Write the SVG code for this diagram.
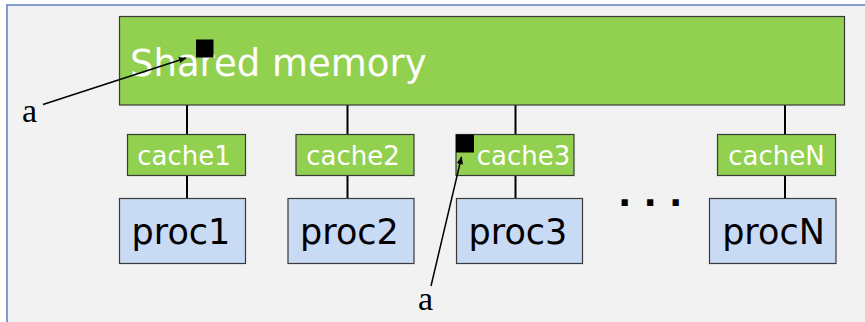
<svg xmlns="http://www.w3.org/2000/svg" width="865" height="322" viewBox="0 0 865 322">
  <defs>
    <marker id="arrow" viewBox="0 0 10 10" refX="9" refY="5" markerWidth="8" markerHeight="8" markerUnits="userSpaceOnUse" orient="auto">
      <path d="M0,1 L10,5 L0,9 z" fill="#000"/>
    </marker>
    <style>
      .mem { fill: #92d050; stroke: #3a3a3a; stroke-width: 1.2; }
      .cache { fill: #92d050; stroke: #3a3a3a; stroke-width: 1.2; }
      .proc { fill: #c9daf5; stroke: #3a3a3a; stroke-width: 1.2; }
      .wtxt { font-family: "DejaVu Sans", Verdana, sans-serif; fill: #ffffff; }
      .btxt { font-family: "DejaVu Sans", Verdana, sans-serif; fill: #000000; }
      .lbl { font-family: "Liberation Serif", "Times New Roman", serif; font-size: 34px; fill: #000; }
      .link { stroke: #000; stroke-width: 2; fill: none; }
      .ptr { stroke: #000; stroke-width: 1.5; fill: none; marker-end: url(#arrow); }
      .blk { fill: #000; }
    </style>
  </defs>

  <!-- panel -->
  <rect x="7" y="5" width="880" height="340" fill="#f2f2f2" stroke="#5b80c4" stroke-width="1.5"/>

  <!-- connectors: memory to caches, caches to processors -->
  <g id="connectors">
    <line class="link" x1="187" y1="105" x2="187" y2="134.5"/>
    <line class="link" x1="187" y1="175.5" x2="187" y2="198.5"/>
    <line class="link" x1="347.5" y1="105" x2="347.5" y2="134.5"/>
    <line class="link" x1="347.5" y1="175.5" x2="347.5" y2="198.5"/>
    <line class="link" x1="515.5" y1="105" x2="515.5" y2="134.5"/>
    <line class="link" x1="515.5" y1="175.5" x2="515.5" y2="198.5"/>
    <line class="link" x1="785" y1="105" x2="785" y2="134.5"/>
    <line class="link" x1="785" y1="175.5" x2="785" y2="198.5"/>
  </g>

  <g id="shared-memory">
    <rect class="mem" x="119.5" y="16.5" width="725" height="88.5"/>
    <text class="wtxt" x="130" y="76" font-size="37">Shared memory</text>
    <rect class="blk" x="196" y="39.5" width="17.5" height="18"/>
  </g>

  <g id="cache1">
    <rect class="cache" x="127.5" y="134.5" width="118" height="41"/>
    <text class="wtxt" x="184" y="164.5" font-size="26" text-anchor="middle">cache1</text>
  </g>
  <g id="cache2">
    <rect class="cache" x="296" y="134.5" width="118" height="41"/>
    <text class="wtxt" x="353" y="164.5" font-size="26" text-anchor="middle">cache2</text>
  </g>
  <g id="cache3">
    <rect class="cache" x="456" y="134.5" width="118" height="41"/>
    <text class="wtxt" x="523.5" y="164.5" font-size="26" text-anchor="middle">cache3</text>
    <rect class="blk" x="456" y="134.5" width="18" height="18"/>
  </g>
  <g id="cacheN">
    <rect class="cache" x="717.5" y="134.5" width="118" height="41"/>
    <text class="wtxt" x="776.5" y="164.5" font-size="26" text-anchor="middle">cacheN</text>
  </g>

  <g id="proc1">
    <rect class="proc" x="119.5" y="198.5" width="126" height="65"/>
    <text class="btxt" x="181" y="244" font-size="35" text-anchor="middle">proc1</text>
  </g>
  <g id="proc2">
    <rect class="proc" x="288" y="198.5" width="126" height="65"/>
    <text class="btxt" x="349.5" y="244" font-size="35" text-anchor="middle">proc2</text>
  </g>
  <g id="proc3">
    <rect class="proc" x="456.5" y="198.5" width="126" height="65"/>
    <text class="btxt" x="518" y="244" font-size="35" text-anchor="middle">proc3</text>
  </g>
  <g id="procN">
    <rect class="proc" x="709.5" y="198.5" width="126.5" height="65"/>
    <text class="btxt" x="773.5" y="244" font-size="35" text-anchor="middle">procN</text>
  </g>

  <!-- ellipsis between proc3 and procN -->
  <text x="618" y="206" font-family="DejaVu Sans, sans-serif" font-weight="bold" font-size="35" fill="#000">. . .</text>

  <!-- address labels pointing at the two copies of a -->
  <g id="label-a-memory">
    <line class="ptr" x1="43" y1="104.5" x2="186" y2="58"/>
    <text class="lbl" x="22" y="122">a</text>
  </g>
  <g id="label-a-cache">
    <line class="ptr" x1="431" y1="286" x2="461.5" y2="157"/>
    <text class="lbl" x="418" y="310">a</text>
  </g>
</svg>
